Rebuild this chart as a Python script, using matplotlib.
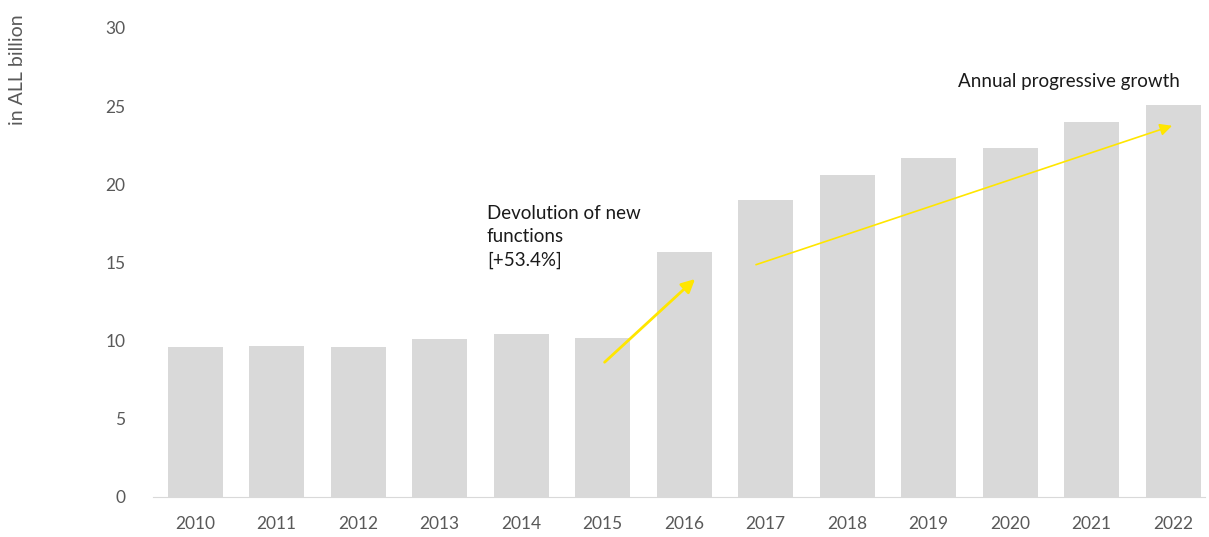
import numpy as np
import matplotlib as mpl
import matplotlib.pyplot as plt

mpl.rcParams['font.family'] = ['Lato', 'DejaVu Sans']

years = ['2010', '2011', '2012', '2013', '2014', '2015', '2016',
         '2017', '2018', '2019', '2020', '2021', '2022']
values = [9.6, 9.65, 9.6, 10.1, 10.4, 10.2, 15.7,
          19.0, 20.6, 21.7, 22.3, 24.0, 25.1]

fig = plt.figure(figsize=(12.09, 5.37), dpi=100)
ax = fig.add_axes([0.1266, 0.0745, 0.870, 0.8735])

x = np.arange(len(years))
ax.bar(x, values, width=0.675, color='#d9d9d9')

ax.set_xlim(-0.515, 12.39)
ax.set_ylim(0, 30)
ax.set_yticks(range(0, 31, 5))
ax.set_xticks(x)
ax.set_xticklabels(years)
ax.tick_params(axis='both', length=0, labelsize=12.5, colors='#595959')
ax.tick_params(axis='y', pad=20)
ax.tick_params(axis='x', pad=14)
for s in ['top', 'right', 'left']:
    ax.spines[s].set_visible(False)
ax.spines['bottom'].set_color('#d9d9d9')

# arrows
ax.annotate('', xy=(6.16, 14.06), xytext=(5.0, 8.5),
            arrowprops=dict(arrowstyle='-|>', color='#ffe600', lw=2, mutation_scale=20))
ax.annotate('', xy=(12.02, 23.8), xytext=(6.85, 14.8),
            arrowprops=dict(arrowstyle='-|>', color='#ffe600', lw=1.2, mutation_scale=18))

ax.text(3.58, 18.7, 'Devolution of new\nfunctions\n[+53.4%]', fontsize=13.5,
        va='top', ha='left', linespacing=1.45, color='#1a1a1a')
ax.text(10.72, 26.6, 'Annual progressive growth', fontsize=13.5,
        va='center', ha='center', color='#1a1a1a')

fig.text(18 / 1209, 1 - 14 / 537, 'in ALL billion', rotation=90, va='top',
         ha='center', fontsize=14, color='#595959')

plt.savefig('out.png', dpi=100)
